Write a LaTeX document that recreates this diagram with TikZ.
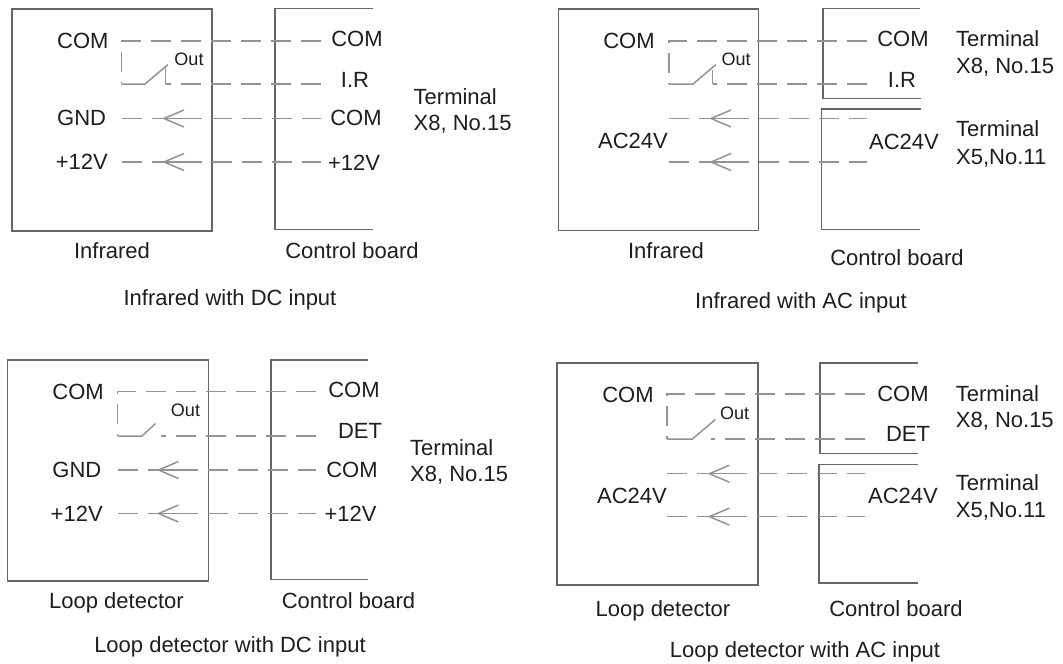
\documentclass[tikz,border=0pt]{standalone}
\usepackage{fontspec}
\setmainfont{Liberation Sans}
\definecolor{boxc}{HTML}{666666}
\definecolor{wirec}{HTML}{939393}
\definecolor{txtc}{HTML}{1E1E1E}
\tikzset{
  box/.style={draw=boxc, line width=1.6pt},
  wire/.style={draw=wirec, line width=1.5pt, dash pattern=on 20pt off 10pt},
  lead/.style={draw=wirec, line width=1.5pt},
  lbl/.style={font=\fontsize{22}{26}\selectfont, text=txtc, inner sep=0pt},
  outl/.style={font=\fontsize{18}{20}\selectfont, text=txtc, inner sep=0pt},
  chev/.pic={\draw[lead] (20,-8.5) -- (0,0) -- (20,8.5); \draw[lead] (0,0) -- (20,0);}
}
\begin{document}
\begin{tikzpicture}[x=1pt,y=-1pt]
\useasboundingbox[fill=white] (0,0) rectangle (1063,664);

%% ===== Panel A: Infrared with DC input =====
\draw[box] (12,9) rectangle (212,231);
\draw[box] (373,8.5) -- (275,8.5) -- (275,229.5) -- (373,229.5);
\coordinate (Acr) at (121.5,41);  \coordinate (Acom) at (321,41);
\coordinate (Asb) at (121.5,84);  \coordinate (Ash) at (145,84);
\coordinate (Ast) at (168,64.5);  \coordinate (Atk) at (165.5,68);
\coordinate (Ail) at (165.5,84);  \coordinate (Air) at (321,84);
\coordinate (Ag1) at (121.5,118.5); \coordinate (Ag2) at (321,118.5);
\coordinate (Av1) at (121.5,162);   \coordinate (Av2) at (321,162);
\draw[wire] (Acom) -- (Acr) -- (Asb);
\draw[lead] (Asb) -- (Ash) -- (Ast);
\draw[lead] (Atk) -- (Ail);
\draw[wire] (Air) -- (Ail);
\draw[wire] (Ag1) -- (Ag2);
\draw[wire] (Av1) -- (Av2);
\pic at (164,118.5) {chev};
\pic at (164,162) {chev};
\node[lbl, anchor=base west] (Al1) at (57,48.8) {COM};
\node[lbl, anchor=base west] (Al2) at (57,125.5) {GND};
\node[lbl, anchor=base west] (Al3) at (55.6,169.5) {+12V};
\node[outl, anchor=base] (Aout) at (189,65.7) {Out};
\node[lbl, anchor=base] (Ar1) at (357,46) {COM};
\node[lbl, anchor=base] (Ar2) at (355,87) {I.R};
\node[lbl, anchor=base] (Ar3) at (356,125.5) {COM};
\node[lbl, anchor=base] (Ar4) at (354,170) {+12V};
\node[lbl, anchor=base west] (At1) at (413.5,104.4) {Terminal};
\node[lbl, anchor=base west] (At2) at (413.5,130.5) {X8, No.15};
\node[lbl, anchor=base] (Adev) at (112,258) {Infrared};
\node[lbl, anchor=base] (Acb) at (352,258) {Control board};
\node[lbl, anchor=base] (Acap) at (230,305) {Infrared with DC input};

%% ===== Panel B: Infrared with AC input =====
\draw[box] (558.6,9) rectangle (758.5,230.6);
\draw[box] (920,8.5) -- (823,8.5) -- (823,98.5) -- (921,98.5);
\draw[box] (921,109) -- (821.5,109) -- (821.5,229.5) -- (920,229.5);
\coordinate (Bcr) at (669,41);  \coordinate (Bcom) at (867,41);
\coordinate (Bsb) at (669,84);  \coordinate (Bsh) at (693,84);
\coordinate (Bst) at (716,64.5); \coordinate (Btk) at (712.5,70);
\coordinate (Bil) at (712.5,84); \coordinate (Bir) at (867,84);
\coordinate (Ba1) at (669,118.5); \coordinate (Ba2) at (867,118.5);
\coordinate (Bb1) at (669,162);   \coordinate (Bb2) at (867,162);
\draw[wire] (Bcom) -- (Bcr) -- (Bsb);
\draw[lead] (Bsb) -- (Bsh) -- (Bst);
\draw[lead] (Btk) -- (Bil);
\draw[wire] (Bir) -- (Bil);
\draw[wire] (Ba1) -- (Ba2);
\draw[wire] (Bb1) -- (Bb2);
\pic at (711,118.5) {chev};
\pic at (711,162) {chev};
\node[lbl, anchor=base] (Bl1) at (629,48.8) {COM};
\node[lbl, anchor=base] (Bl2) at (633,148) {AC24V};
\node[outl, anchor=base] (Bout) at (736,65.7) {Out};
\node[lbl, anchor=base] (Br1) at (903,46.5) {COM};
\node[lbl, anchor=base] (Br2) at (902,87) {I.R};
\node[lbl, anchor=base] (Br3) at (904,149) {AC24V};
\node[lbl, anchor=base west] (Bt1) at (956,46.5) {Terminal};
\node[lbl, anchor=base west] (Bt2) at (956,73.5) {X8, No.15};
\node[lbl, anchor=base west] (Bt3) at (956,136.5) {Terminal};
\node[lbl, anchor=base west] (Bt4) at (956,164) {X5,No.11};
\node[lbl, anchor=base] (Bdev) at (666,258) {Infrared};
\node[lbl, anchor=base] (Bcb) at (897,265) {Control board};
\node[lbl, anchor=base] (Bcap) at (801,308) {Infrared with AC input};

%% ===== Panel C: Loop detector with DC input =====
\draw[box] (7.4,360.2) rectangle (208.5,581);
\draw[box] (368,360) -- (271,360) -- (271,579.5) -- (368,579.5);
\coordinate (Ccr) at (117.5,391.5); \coordinate (Ccom) at (315.5,391.5);
\coordinate (Csb) at (117.5,436);   \coordinate (Csh) at (142,436);
\coordinate (Cst) at (155.5,423.5);
\coordinate (Cdl) at (161,436);     \coordinate (Cdr) at (315.5,436);
\coordinate (Cg1) at (117.5,470);   \coordinate (Cg2) at (315.5,470);
\coordinate (Cv1) at (117.5,513.5); \coordinate (Cv2) at (315.5,513.5);
\draw[wire] (Ccom) -- (Ccr) -- (Csb);
\draw[lead] (Csb) -- (Csh) -- (Cst);
\draw[wire] (Cdr) -- (Cdl);
\draw[wire] (Cg1) -- (Cg2);
\draw[wire] (Cv1) -- (Cv2);
\pic at (158.5,470) {chev};
\pic at (158.5,513.5) {chev};
\node[lbl, anchor=base west] (Cl1) at (52.2,399.5) {COM};
\node[lbl, anchor=base west] (Cl2) at (52.2,477.5) {GND};
\node[lbl, anchor=base west] (Cl3) at (50.5,521) {+12V};
\node[outl, anchor=base] (Cout) at (185.5,416.5) {Out};
\node[lbl, anchor=base] (Cr1) at (354,397.5) {COM};
\node[lbl, anchor=base] (Cr2) at (360,438) {DET};
\node[lbl, anchor=base] (Cr3) at (352,477.5) {COM};
\node[lbl, anchor=base] (Cr4) at (350.5,521.5) {+12V};
\node[lbl, anchor=base west] (Ct1) at (410,455.5) {Terminal};
\node[lbl, anchor=base west] (Ct2) at (410,481.5) {X8, No.15};
\node[lbl, anchor=base] (Cdev) at (116.5,608) {Loop detector};
\node[lbl, anchor=base] (Ccb) at (348.5,608) {Control board};
\node[lbl, anchor=base] (Ccap) at (230,652.7) {Loop detector with DC input};

%% ===== Panel D: Loop detector with AC input =====
\draw[box] (557,363) rectangle (757.7,585);
\draw[box] (917.5,363) -- (820,363) -- (820,453.4) -- (917.5,453.4);
\draw[box] (917.5,464.5) -- (818.7,464.5) -- (818.7,583) -- (917.5,583);
\coordinate (Dcr) at (667,394);   \coordinate (Dcom) at (865,394);
\coordinate (Dsb) at (667,439);   \coordinate (Dsh) at (692.4,439);
\coordinate (Dst) at (715.4,419.5);
\coordinate (Ddl) at (711,439);   \coordinate (Ddr) at (865,439);
\coordinate (Da1) at (667,473.7); \coordinate (Da2) at (865,473.7);
\coordinate (Db1) at (667,516.6); \coordinate (Db2) at (865,516.6);
\draw[wire] (Dcom) -- (Dcr) -- (Dsb);
\draw[lead] (Dsb) -- (Dsh) -- (Dst);
\draw[wire] (Ddr) -- (Ddl);
\draw[wire] (Da1) -- (Da2);
\draw[wire] (Db1) -- (Db2);
\pic at (709.4,473.7) {chev};
\pic at (709.4,516.6) {chev};
\node[lbl, anchor=base] (Dl1) at (628,402) {COM};
\node[lbl, anchor=base] (Dl2) at (632,503) {AC24V};
\node[outl, anchor=base] (Dout) at (734.7,419.5) {Out};
\node[lbl, anchor=base] (Dr1) at (903,401) {COM};
\node[lbl, anchor=base] (Dr2) at (908,441.5) {DET};
\node[lbl, anchor=base] (Dr3) at (903,503) {AC24V};
\node[lbl, anchor=base west] (Dt1) at (955.7,401) {Terminal};
\node[lbl, anchor=base west] (Dt2) at (955.7,427.3) {X8, No.15};
\node[lbl, anchor=base west] (Dt3) at (955.7,490.6) {Terminal};
\node[lbl, anchor=base west] (Dt4) at (955.7,517.7) {X5,No.11};
\node[lbl, anchor=base] (Ddev) at (663,616) {Loop detector};
\node[lbl, anchor=base] (Dcb) at (896,616) {Control board};
\node[lbl, anchor=base] (Dcap) at (805,657) {Loop detector with AC input};
\end{tikzpicture}
\end{document}
